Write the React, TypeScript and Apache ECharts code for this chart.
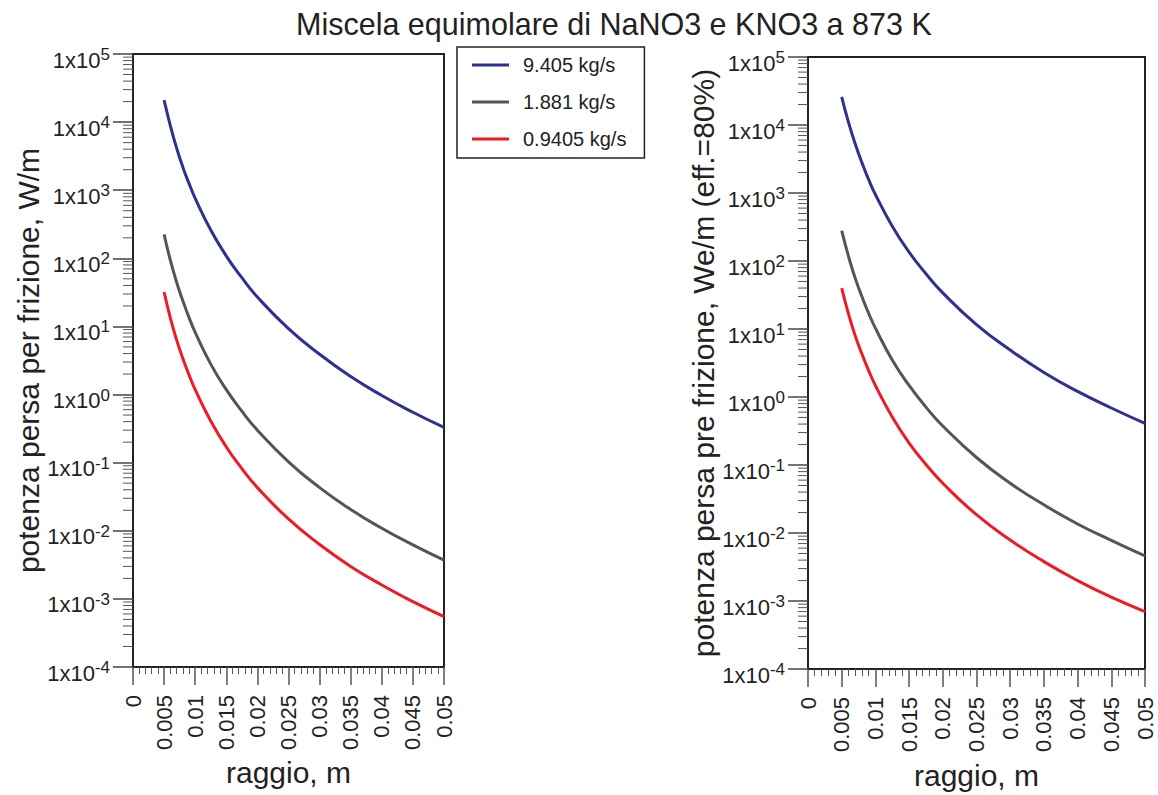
import React, { useEffect, useRef } from "react";
import * as echarts from "echarts";

const FONT = "'Liberation Sans', Arial, Helvetica, sans-serif";
const TXT = "#222";

const title = "Miscela equimolare di NaNO3 e KNO3 a 873 K";
const seriesNames = ["9.405 kg/s", "1.881 kg/s", "0.9405 kg/s"];
const colors = ["#2e3192", "#555555", "#ed1c24"];

// raggio, m
const radius = [0.005, 0.006, 0.007, 0.008, 0.009, 0.01, 0.0125, 0.015, 0.0175, 0.02, 0.025, 0.03, 0.035, 0.04, 0.045, 0.05];

// left panel: W/m
const leftBlue = [21000, 8900, 4200, 2200, 1260, 760, 260, 108, 52, 27, 9.3, 3.9, 1.84, 0.97, 0.55, 0.33];
const leftGray = [225, 94, 45, 24, 13.6, 8.2, 2.8, 1.18, 0.57, 0.3, 0.103, 0.043, 0.0206, 0.0109, 0.0062, 0.0037];
const leftRed = [32, 13.4, 6.4, 3.4, 1.95, 1.18, 0.41, 0.17, 0.082, 0.043, 0.0149, 0.0063, 0.003, 0.0016, 0.00091, 0.00055];

// right panel: We/m (eff. = 80%)
const rightBlue = [26000, 11000, 5300, 2800, 1570, 950, 325, 135, 65, 34, 11.6, 4.9, 2.3, 1.21, 0.69, 0.41];
const rightGray = [280, 118, 56, 30, 17, 10.3, 3.5, 1.48, 0.71, 0.375, 0.129, 0.054, 0.026, 0.0136, 0.0078, 0.0046];
const rightRed = [40, 16.8, 8.0, 4.3, 2.45, 1.48, 0.51, 0.21, 0.102, 0.054, 0.0186, 0.0079, 0.0038, 0.002, 0.00114, 0.0007];

const yMin = 1e-4;
const yMax = 1e5;
const xMin = 0;
const xMax = 0.05;
const xInterval = 0.005;

const xName = "raggio, m";
const yNameLeft = "potenza persa per frizione, W/m";
const yNameRight = "potenza persa pre frizione, We/m (eff.=80%)";

// minor tick positions of the log axis (2..9 x 10^k)
const minorTickValues: number[] = [];
for (let k = -4; k < 5; k++) {
  for (let m = 2; m <= 9; m++) minorTickValues.push(m * Math.pow(10, k));
}

const pairs = (ys: number[]) => radius.map((x, i) => [x, ys[i]]);

function xAxisCfg(gridIndex: number, nameGap: number) {
  return {
    type: "value",
    gridIndex,
    min: xMin,
    max: xMax,
    interval: xInterval,
    name: xName,
    nameLocation: "middle",
    nameGap,
    nameTextStyle: { fontSize: 30, color: TXT, fontFamily: FONT },
    axisLine: { show: true, lineStyle: { color: "#222", width: 2 } },
    axisTick: { show: true, length: 18, lineStyle: { color: "#555", width: 1.5 } },
    minorTick: { show: true, splitNumber: 5, length: 7, lineStyle: { color: "#555", width: 1 } },
    splitLine: { show: false },
    minorSplitLine: { show: false },
    axisLabel: {
      rotate: 90,
      margin: 28,
      fontSize: 22,
      color: TXT,
      fontFamily: FONT,
      formatter: (v: number) => (v === 0 ? "0" : String(+v.toFixed(4))),
    },
  };
}

function yAxisCfg(gridIndex: number, name: string, nameGap: number) {
  return {
    type: "log",
    logBase: 10,
    gridIndex,
    min: yMin,
    max: yMax,
    splitNumber: 9,
    name,
    nameLocation: "middle",
    nameGap,
    nameRotate: 90,
    nameTextStyle: { fontSize: 30, color: TXT, fontFamily: FONT },
    axisLine: { show: true, lineStyle: { color: "#222", width: 2 } },
    axisTick: { show: true, length: 20, lineStyle: { color: "#444", width: 1.5 } },
    splitLine: { show: false },
    axisLabel: {
      margin: 23,
      padding: [9, 0, 0, 0],
      formatter: (v: number) => {
        const e = Math.round(Math.log10(v));
        return `{b|1x10}{s|${e}}`;
      },
      rich: {
        b: { fontSize: 22, lineHeight: 25, color: TXT, fontFamily: FONT, verticalAlign: "bottom" },
        s: { fontSize: 17, lineHeight: 17, color: TXT, fontFamily: FONT, verticalAlign: "top" },
      },
    },
  };
}

function minorTickSeries(idx: number) {
  return {
    type: "custom",
    name: "minor" + idx,
    xAxisIndex: idx,
    yAxisIndex: idx,
    clip: false,
    silent: true,
    data: minorTickValues.map((v) => [xMin, v]),
    renderItem: (_params: any, api: any) => {
      const p = api.coord([api.value(0), api.value(1)]);
      return {
        type: "line",
        shape: { x1: p[0] - 10, y1: p[1], x2: p[0], y2: p[1] },
        style: { stroke: "#555", lineWidth: 1 },
      };
    },
  };
}

function lineSeries(name: string, color: string, ys: number[], idx: number) {
  return {
    type: "line",
    name,
    xAxisIndex: idx,
    yAxisIndex: idx,
    data: pairs(ys),
    smooth: true,
    symbol: "none",
    lineStyle: { color, width: 3 },
    itemStyle: { color },
  };
}

export default function App() {
  const ref = useRef<HTMLDivElement>(null);
  useEffect(() => {
    if (!ref.current) return;
    const chart = echarts.init(ref.current, null, { renderer: "svg" });
    chart.setOption({
      animation: false,
      backgroundColor: "#ffffff",
      textStyle: { fontFamily: FONT },
      title: {
        text: title,
        left: 296,
        top: 8,
        padding: 0,
        textStyle: { fontSize: 30.5, fontWeight: "normal", color: TXT, fontFamily: FONT },
      },
      legend: {
        data: seriesNames,
        orient: "vertical",
        left: 457,
        top: 47,
        icon: "rect",
        itemWidth: 37,
        itemHeight: 3,
        itemGap: 17,
        padding: [8, 18, 9, 15],
        borderColor: "#222",
        borderWidth: 1.5,
        selectedMode: false,
        textStyle: { fontSize: 20, lineHeight: 20, color: TXT, fontFamily: FONT, padding: [0, 0, 0, 9] },
      },
      grid: [
        { left: 133, right: 1158 - 444, top: 54, bottom: 795 - 667, show: true, borderColor: "#222", borderWidth: 2 },
        { left: 808, right: 1158 - 1145, top: 57, bottom: 795 - 675, show: true, borderColor: "#222", borderWidth: 2 },
      ],
      xAxis: [xAxisCfg(0, 88), xAxisCfg(1, 87)],
      yAxis: [yAxisCfg(0, yNameLeft, 84), yAxisCfg(1, yNameRight, 83)],
      series: [
        lineSeries(seriesNames[0], colors[0], leftBlue, 0),
        lineSeries(seriesNames[1], colors[1], leftGray, 0),
        lineSeries(seriesNames[2], colors[2], leftRed, 0),
        lineSeries(seriesNames[0], colors[0], rightBlue, 1),
        lineSeries(seriesNames[1], colors[1], rightGray, 1),
        lineSeries(seriesNames[2], colors[2], rightRed, 1),
        minorTickSeries(0),
        minorTickSeries(1),
      ],
    });
    return () => chart.dispose();
  }, []);
  return <div ref={ref} style={{ position: "absolute", left: 0, top: 0, width: 1158, height: 795 }} />;
}
